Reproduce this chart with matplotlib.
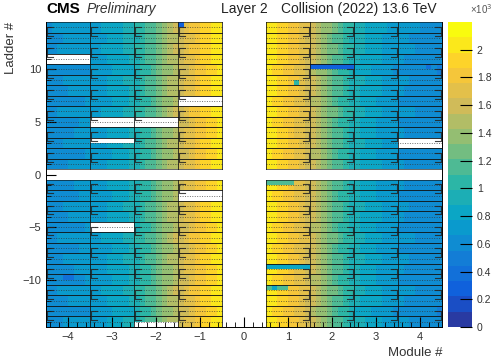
import numpy as np
import matplotlib
matplotlib.use("Agg")
import matplotlib.pyplot as plt
from matplotlib.colors import LinearSegmentedColormap, ListedColormap

plt.rcParams['font.family'] = ['Liberation Sans', 'DejaVu Sans']

# occupancy (x10^3) per ROC column, 8 columns per module
modules = [-4, -3, -2, -1, 1, 2, 3, 4]
col_profile = {
    -4: [0.60, 0.62, 0.63, 0.64, 0.65, 0.66, 0.67, 0.68],
    -3: [0.70, 0.72, 0.74, 0.77, 0.80, 0.83, 0.87, 0.91],
    -2: [0.96, 1.02, 1.09, 1.17, 1.26, 1.35, 1.43, 1.51],
    -1: [1.58, 1.66, 1.74, 1.80, 1.86, 1.92, 1.97, 2.02],
    1: [2.02, 1.98, 1.93, 1.88, 1.82, 1.76, 1.70, 1.63],
    2: [1.55, 1.46, 1.37, 1.28, 1.19, 1.10, 1.02, 0.96],
    3: [0.91, 0.87, 0.83, 0.79, 0.76, 0.73, 0.70, 0.68],
    4: [0.66, 0.64, 0.63, 0.62, 0.61, 0.60, 0.59, 0.58],
}
ladders = list(range(-14, 15))
ladder_shift = [0.02, -0.03, 0.01, 0.03, -0.02, 0.00, 0.02, -0.01, 0.03, -0.02,
                0.01, 0.02, -0.01, 0.00, 0.0, 0.01, -0.02, 0.02, 0.00, -0.01,
                0.03, -0.02, 0.01, 0.02, -0.03, 0.01, 0.03, 0.02, 0.04]

# dead ROC rows (module, ladder, row) -> white
dead = [(-4, 11, 'both'), (-1, 7, 'both'), (-3, 5, 'both'), (-2, 5, 'both'),
        (-3, 3, 'upper'), (-1, -2, 'both'), (-3, -5, 'both'), (-2, -14, 'lower'),
        (4, 3, 'both')]
# low-occupancy spots (module, ladder, row, first col, last col, value)
low = [(2, 10, 'upper', 0, 7, 0.25), (-1, 14, 'upper', 0, 0, 0.25),
       (1, 9, 'lower', 5, 5, 1.00), (1, -9, 'upper', 0, 7, 0.85),
       (1, -11, 'upper', 0, 3, 1.10), (1, -11, 'upper', 1, 1, 0.80),
       (1, -1, 'upper', 0, 4, 1.15), (4, 10, 'upper', 5, 5, 0.40),
       (-4, -10, 'upper', 3, 4, 0.35)]

# build the grid: 72 columns (module 0 empty), 58 rows (ladder 0 empty)
x_edges = np.linspace(-4.5, 4.5, 73)
y_edges = np.linspace(-14.5, 14.5, 59)
z = np.full((58, 72), np.nan)


def col0(m):
    return (m + 4) * 8


def row0(l, which):
    r = (l + 14) * 2
    return {'lower': [r], 'upper': [r + 1], 'both': [r, r + 1]}[which]


for li, l in enumerate(ladders):
    if l == 0:
        continue
    for m in modules:
        for r in row0(l, 'both'):
            z[r, col0(m):col0(m) + 8] = np.array(col_profile[m]) + ladder_shift[li]
for m, l, w, a, b, v in low:
    for r in row0(l, w):
        z[r, col0(m) + a:col0(m) + b + 1] = v
for m, l, w in dead:
    for r in row0(l, w):
        z[r, col0(m):col0(m) + 8] = np.nan

# ROOT kBird palette
bird = [(0.2082, 0.1664, 0.5293), (0.0592, 0.3599, 0.8684), (0.0780, 0.5041, 0.8385),
        (0.0232, 0.6419, 0.7914), (0.1802, 0.7178, 0.6425), (0.5301, 0.7492, 0.4662),
        (0.8186, 0.7328, 0.3499), (0.9956, 0.7862, 0.1968), (0.9764, 0.9832, 0.0539)]
smooth = LinearSegmentedColormap.from_list('bird', bird)
cmap = ListedColormap(smooth(np.linspace(0.04, 1, 20)))
cmap.set_bad('white')

fig = plt.figure(figsize=(4.92, 3.62), dpi=100)
ax = fig.add_axes([0.0935, 0.0967, 0.805, 0.8425])
mesh = ax.pcolormesh(x_edges, y_edges, np.ma.masked_invalid(z), cmap=cmap,
                     vmin=0, vmax=2.2)

# module / ladder outlines
for xs in [(-4.5, -0.5), (0.5, 4.5)]:
    for l in ladders:
        if l == 0:
            continue
        ax.plot(xs, [l + 0.5, l + 0.5], color='#111111', lw=0.6, alpha=0.75)
        ax.plot(xs, [l - 0.5, l - 0.5], color='#111111', lw=0.6, alpha=0.75)
        ax.plot(xs, [l, l], color='#333333', lw=0.7, ls=(0, (1, 1.5)), alpha=0.7)
for ys in [(-14.5, -0.5), (0.5, 14.5)]:
    for xv in [-4.5, -3.5, -2.5, -1.5, -0.5, 0.5, 1.5, 2.5, 3.5, 4.5]:
        ax.plot([xv, xv], ys, color='#111111', lw=0.7, alpha=0.8)

# half-ladder brackets
bracket_ladders = [14, 12, 10, 8, 6, 4, 2, -1, -3, -5, -7, -9, -11, -13]
for l in bracket_ladders:
    for m in modules:
        if m < 0:
            x0, dx = m - 0.47, 0.12
        else:
            x0, dx = m + 0.47, -0.12
        ax.plot([x0 + dx, x0, x0, x0 + dx], [l + 0.05, l + 0.05, l - 0.8, l - 0.8],
                color='#222222', lw=0.8, alpha=0.85)

ax.set_xlim(-4.5, 4.5)
ax.set_ylim(-14.5, 14.5)
ax.set_xticks(range(-4, 5))
ax.set_xticks(np.arange(-4.4, 4.5, 0.2), minor=True)
ax.set_yticks([-10, -5, 0, 5, 10])
ax.set_yticks(range(-14, 15), minor=True)
ax.tick_params(which='both', direction='in', labelsize=8, labelcolor='#333333',
               top=False, right=False)
ax.tick_params(which='major', length=7, width=0.8)
ax.tick_params(which='minor', length=3.5, width=0.6)
ax.spines['top'].set_visible(False)
for s in ['left', 'bottom', 'right']:
    ax.spines[s].set_linewidth(0.7)

ax.set_xlabel('Module #', fontsize=9.5, color='#333333', loc='right')
ax.set_ylabel('Ladder #', fontsize=9.5, color='#333333', loc='top')

fig.text(0.0935, 0.955, 'CMS', fontsize=11, fontweight='bold', va='bottom')
fig.text(0.175, 0.955, 'Preliminary', fontsize=10, style='italic', va='bottom',
         color='#333333')
fig.text(0.45, 0.955, 'Layer 2', fontsize=10, va='bottom', color='#222222')
fig.text(0.572, 0.955, 'Collision (2022) 13.6 TeV', fontsize=10, va='bottom',
         color='#222222')

cax = fig.add_axes([0.9106, 0.0967, 0.0488, 0.8425])
cb = fig.colorbar(mesh, cax=cax)
cb.set_ticks([0, 0.2, 0.4, 0.6, 0.8, 1.0, 1.2, 1.4, 1.6, 1.8, 2.0])
cb.set_ticklabels(['0', '0.2', '0.4', '0.6', '0.8', '1', '1.2', '1.4', '1.6', '1.8', '2'])
cb.ax.tick_params(direction='in', length=9, width=0.8, labelsize=7.5,
                  labelcolor='#333333')
cb.outline.set_visible(False)
fig.text(0.955, 0.955, '×10$^{3}$', fontsize=7, va='bottom', color='#555555')

fig.savefig('out.png', dpi=100)
